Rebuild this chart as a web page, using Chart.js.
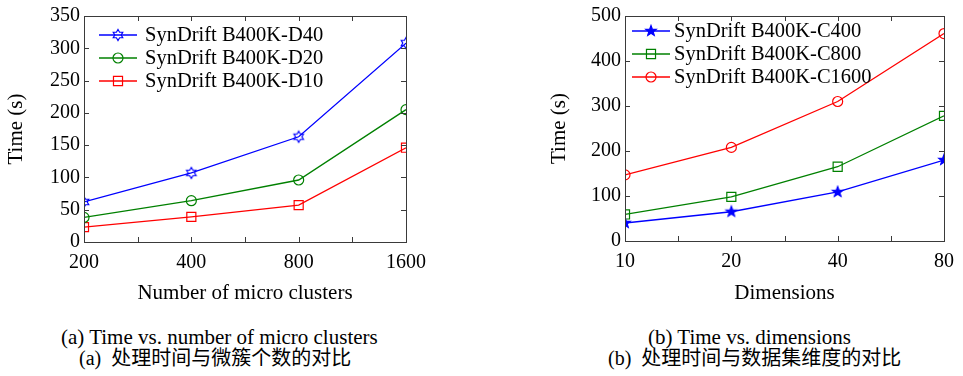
<!DOCTYPE html>
<html>
<head>
<meta charset="utf-8">
<script src="https://cdn.jsdelivr.net/npm/chart.js@4.4.1/dist/chart.umd.min.js"></script>
<style>
  body { margin: 0; background: #fff; width: 963px; height: 376px; position: relative; overflow: hidden; }
  .box { position: absolute; top: 0; height: 310px; }
  .cap { position: absolute; font-family: "Liberation Serif", "Noto Sans CJK SC", serif; color: #000; white-space: pre; line-height: 24px; }
</style>
</head>
<body>
<div class="box" style="left:0;width:480px"><canvas id="clusters-graph"></canvas></div>
<div class="box" style="left:480px;width:483px"><canvas id="dims-graph"></canvas></div>
<div class="cap" style="left:61px;top:325px;font-size:21px">(a) Time vs. number of micro clusters</div>
<div class="cap" style="left:79px;top:346px;font-size:20px">(a)  处理时间与微簇个数的对比</div>
<div class="cap" style="left:648px;top:325px;font-size:21px">(b) Time vs. dimensions</div>
<div class="cap" style="left:608px;top:346px;font-size:20px">(b)  处理时间与数据集维度的对比</div>
<script>
// Data

const clusters = [200, 400, 800, 1600];
const timeD40 = [62, 107, 163, 308];
const timeD20 = [38, 64, 96, 205];
const timeD10 = [23, 39, 57, 146];

const dims = [10, 20, 40, 80];
const timeC400 = [40, 65, 109, 180];
const timeC800 = [59, 98, 165, 278];
const timeC1600 = [147, 208, 310, 461];

const BLUE = '#0000ff';
const GREEN = '#008000';
const RED = '#ff0000';
const FONT = '"Liberation Serif", "Times New Roman", serif';

// star shaped markers (matlab hexagram / pentagram)
function starMarker(points, outer, inner, color, filled) {
  const c = document.createElement('canvas');
  c.width = c.height = 16;
  const g = c.getContext('2d');
  g.beginPath();
  for (let i = 0; i < points * 2; i++) {
    const r = i % 2 ? inner : outer;
    const ang = -Math.PI / 2 + i * Math.PI / points;
    g.lineTo(8 + r * Math.cos(ang), 8 + r * Math.sin(ang));
  }
  g.closePath();
  if (filled) {
    g.fillStyle = color;
    g.fill();
  }
  g.lineWidth = 1.2;
  g.strokeStyle = color;
  g.stroke();
  return c;
}

function series(label, xs, ys, color, marker, radius) {
  return {
    label: label,
    data: xs.map((x, i) => ({ x: x, y: ys[i] })),
    borderColor: color,
    backgroundColor: 'rgba(0,0,0,0)',
    borderWidth: 1.3,
    pointStyle: marker,
    pointRadius: radius,
    pointHoverRadius: radius,
    pointBorderWidth: 1.2,
    pointBorderColor: color,
    pointBackgroundColor: 'rgba(0,0,0,0)',
    tension: 0
  };
}

// log x axis with the matlab style minor ticks half way between labels
function logTicks(values) {
  return (scale) => {
    const list = [];
    values.forEach((v, i) => {
      list.push({ value: v });
      if (i < values.length - 1) list.push({ value: Math.sqrt(v * values[i + 1]) });
    });
    scale.ticks = list;
  };
}

// box + inward tick marks
const framePlugin = {
  id: 'frame',
  afterDatasetsDraw(chart) {
    const { ctx, chartArea: a, scales: { x, y } } = chart;
    ctx.save();
    ctx.strokeStyle = '#3a3a3a';
    ctx.lineWidth = 1;
    ctx.beginPath();
    x.ticks.forEach(t => {
      const px = Math.round(x.getPixelForValue(t.value)) + 0.5;
      ctx.moveTo(px, a.bottom);
      ctx.lineTo(px, a.bottom - 5);
      ctx.moveTo(px, a.top);
      ctx.lineTo(px, a.top + 5);
    });
    y.ticks.forEach(t => {
      const py = Math.round(y.getPixelForValue(t.value)) + 0.5;
      ctx.moveTo(a.left, py);
      ctx.lineTo(a.left + 5, py);
      ctx.moveTo(a.right, py);
      ctx.lineTo(a.right - 5, py);
    });
    ctx.stroke();
    ctx.strokeRect(Math.round(a.left) + 0.5, Math.round(a.top) + 0.5, Math.round(a.width), Math.round(a.height));
    ctx.restore();
  }
};

// legend drawn inside the plot, line + marker + label
const insideLegend = {
  id: 'insideLegend',
  afterDraw(chart, args, opts) {
    const { ctx, chartArea: a } = chart;
    ctx.save();
    chart.data.datasets.forEach((ds, i) => {
      const yy = a.top + opts.top + i * opts.gap;
      const x1 = a.left + opts.left;
      const x2 = x1 + opts.lineLen;
      ctx.strokeStyle = ds.borderColor;
      ctx.lineWidth = ds.borderWidth;
      ctx.beginPath();
      ctx.moveTo(x1, yy);
      ctx.lineTo(x2, yy);
      ctx.stroke();
      ctx.fillStyle = 'rgba(0,0,0,0)';
      ctx.lineWidth = ds.pointBorderWidth;
      Chart.helpers.drawPoint(ctx, {
        pointStyle: ds.pointStyle,
        radius: ds.pointRadius,
        rotation: 0,
        borderWidth: ds.pointBorderWidth
      }, (x1 + x2) / 2, yy);
      ctx.fillStyle = '#000';
      ctx.font = '20.5px ' + FONT;
      ctx.textBaseline = 'middle';
      ctx.textAlign = 'left';
      ctx.fillText(ds.label, x2 + opts.textGap, yy + 1);
    });
    ctx.restore();
  }
};

function axisOptions(xVals, xTitle, yMax, yStep, yWidth, xHeight) {
  return {
    x: {
      type: 'logarithmic',
      min: xVals[0],
      max: xVals[xVals.length - 1],
      afterBuildTicks: logTicks(xVals),
      afterFit: (s) => { s.height = xHeight; },
      grid: { display: false, drawTicks: false },
      border: { display: false },
      ticks: {
        autoSkip: false,
        maxRotation: 0,
        minRotation: 0,
        padding: 9,
        color: '#000',
        font: { family: FONT, size: 20 },
        callback: (v) => xVals.includes(v) ? String(v) : ''
      },
      title: { display: true, text: xTitle, color: '#000', font: { family: FONT, size: 21 }, padding: { top: 4, bottom: 4 } }
    },
    y: {
      min: 0,
      max: yMax,
      afterFit: (s) => { s.width = yWidth; },
      grid: { display: false, drawTicks: false },
      border: { display: false },
      ticks: {
        stepSize: yStep,
        padding: 4,
        color: '#000',
        font: { family: FONT, size: 20 }
      },
      title: { display: true, text: 'Time (s)', color: '#000', font: { family: FONT, size: 21 }, padding: { top: 4, bottom: 4 } }
    }
  };
}

// (a) Time vs number of micro clusters

const hexBlue = starMarker(6, 5.5, 3.2, BLUE, false);

const clustersChart = new Chart(document.querySelector('#clusters-graph'), {
  type: 'line',
  data: {
    datasets: [
      series('SynDrift B400K-D40', clusters, timeD40, BLUE, hexBlue, 5),
      series('SynDrift B400K-D20', clusters, timeD20, GREEN, 'circle', 5),
      series('SynDrift B400K-D10', clusters, timeD10, RED, 'rect', 6.4)
    ]
  },
  options: {
    responsive: true,
    maintainAspectRatio: false,
    animation: false,
    layout: { padding: { left: 0, right: 74, top: 14, bottom: 0 } },
    scales: axisOptions(clusters, 'Number of micro clusters', 350, 50, 84, 68),
    plugins: {
      legend: { display: false },
      tooltip: { enabled: false },
      insideLegend: { left: 15, top: 19, gap: 23, lineLen: 38, textGap: 8 }
    }
  },
  plugins: [framePlugin, insideLegend]
});

// (b) Time vs dimensions

const starBlue = starMarker(5, 5.5, 2.3, BLUE, true);

const dimsChart = new Chart(document.querySelector('#dims-graph'), {
  type: 'line',
  data: {
    datasets: [
      series('SynDrift B400K-C400', dims, timeC400, BLUE, starBlue, 5),
      series('SynDrift B400K-C800', dims, timeC800, GREEN, 'rect', 6.4),
      series('SynDrift B400K-C1600', dims, timeC1600, RED, 'circle', 5)
    ]
  },
  options: {
    responsive: true,
    maintainAspectRatio: false,
    animation: false,
    layout: { padding: { left: 63, right: 12, top: 14, bottom: 0 } },
    scales: axisOptions(dims, 'Dimensions', 500, 100, 82, 69),
    plugins: {
      legend: { display: false },
      tooltip: { enabled: false },
      insideLegend: { left: 7, top: 15, gap: 23, lineLen: 38, textGap: 4 }
    }
  },
  plugins: [framePlugin, insideLegend]
});
</script>
</body>
</html>
